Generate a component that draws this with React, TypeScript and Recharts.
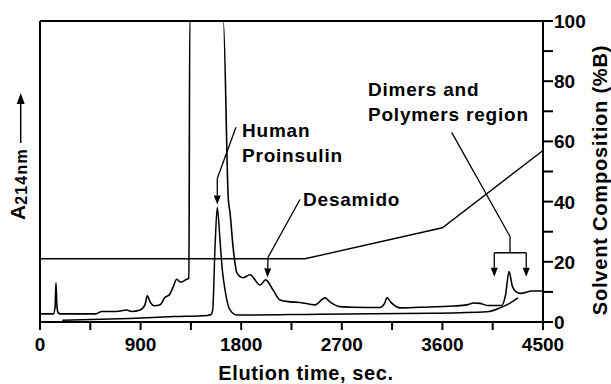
import { LineChart, Line, XAxis, YAxis, ReferenceLine, ReferenceDot } from 'recharts'

// crude sample trace (A214, display units 0-100, off-scale peak clipped at 100)
const crudeTime = [
  0, 120, 135, 143, 152, 165, 180, 500, 552, 686, 775, 820, 895, 939, 960, 984, 1020, 1074, 1118,
  1157, 1190, 1223, 1258, 1312, 1332, 1340, 1640, 1685, 1700, 1727, 1762, 1816, 1879, 1968, 2019,
  2084, 2147, 2236, 2326, 2460, 2550, 2600, 2684, 2800, 3042, 3080, 3105, 3140, 3220, 3400, 3700,
  3820, 3880, 3936, 4000, 4130, 4165, 4196, 4225, 4260, 4300, 4400, 4500,
]
const crudeAbs = [
  2.7, 2.7, 5, 13, 5, 2.9, 2.7, 2.7, 3.5, 3.5, 4.0, 3.5, 4.0, 5.7, 8.7, 6.8, 5.4, 5.7, 8.2,
  9.0, 11.5, 14.2, 13.2, 14.2, 14.5, 100, 100, 40.7, 36.3, 25, 16.3, 14.7, 15.7, 12.3, 14,
  10.7, 7.3, 6.7, 6.5, 5.7, 8, 6.5, 5.1, 4.9, 4.8, 6, 8, 6.5, 4.7, 4.9, 5.3,
  5.7, 6.3, 6.2, 5.5, 5.5, 9, 16.8, 12, 10, 9.5, 10.3, 10.3,
]

// purified proinsulin trace
const pureTime = [200, 800, 1200, 1500, 1530, 1545, 1566, 1586, 1610, 1631, 1655, 1700, 1760, 2500, 3500, 4000, 4115, 4205, 4276]
const pureAbs = [0.6, 1.2, 1.8, 2.2, 2.5, 4, 25, 38, 27.3, 17.3, 10.7, 4, 2.3, 2.6, 2.9, 3.4, 4.7, 6.3, 8]

// solvent gradient (%B)
const gradientTime = [0, 2370, 3600, 4500]
const gradientPctB = [21, 21, 31.3, 57]

const timeTicks = [0, 450, 900, 1350, 1800, 2250, 2700, 3150, 3600, 4050, 4500]
const pctTicks = [0, 10, 20, 30, 40, 50, 60, 70, 80, 90, 100]

const crude = crudeTime.map((t, i) => ({ t, a: crudeAbs[i] }))
const pure = pureTime.map((t, i) => ({ t, a: pureAbs[i] }))
const gradient = gradientTime.map((t, i) => ({ t, b: gradientPctB[i] }))

const FONT = '"Liberation Sans", Arial, Helvetica, sans-serif'

function TimeTick({ x, y, payload }: any) {
  if (payload.value % 900 !== 0) return <g />
  return (
    <text x={x} y={y + 19} textAnchor="middle" fontSize={19} fontWeight="bold" fontFamily={FONT} fill="#000">
      {payload.value}
    </text>
  )
}

function PctTick({ x, y, payload }: any) {
  if (payload.value % 20 !== 0) return <g />
  return (
    <text x={x - 1} y={y + 7} textAnchor="start" fontSize={19} fontWeight="bold" fontFamily={FONT} fill="#000">
      {payload.value}
    </text>
  )
}

function Arrow({ x1, y1, x2, y2 }: any) {
  const ang = Math.atan2(y2 - y1, x2 - x1)
  const len = 9
  const half = 3.5
  const bx = x2 - len * Math.cos(ang)
  const by = y2 - len * Math.sin(ang)
  const px = -Math.sin(ang) * half
  const py = Math.cos(ang) * half
  return (
    <g>
      <line x1={x1} y1={y1} x2={bx} y2={by} stroke="#000" strokeWidth={1.3} />
      <polygon points={`${x2},${y2} ${bx + px},${by + py} ${bx - px},${by - py}`} fill="#000" />
    </g>
  )
}

function note(lines: string[]) {
  return ({ cx, cy }: any) => (
    <text x={cx} y={cy} fontSize={19} fontWeight="bold" fontFamily={FONT} fill="#000" letterSpacing={0.8}>
      {lines.map((s, i) => (
        <tspan key={i} x={cx} dy={i === 0 ? 0 : 25}>
          {s}
        </tspan>
      ))}
    </text>
  )
}

function XTitle() {
  return (
    <text x={306} y={380} textAnchor="middle" fontSize={20} fontWeight="bold" fontFamily={FONT} fill="#000" letterSpacing={0.6}>
      Elution time, sec.
    </text>
  )
}

function PctTitle() {
  return (
    <text
      transform="translate(607,180) rotate(-90)"
      textAnchor="middle"
      fontSize={20}
      fontWeight="bold"
      fontFamily={FONT}
      fill="#000"
      letterSpacing={0.8}
    >
      Solvent Composition (%B)
    </text>
  )
}

function AbsTitle() {
  return (
    <g transform="translate(25,220) rotate(-90)" fontFamily={FONT} fontWeight="bold" fill="#000">
      <text x={0} y={0} fontSize={21}>
        A
        <tspan fontSize={16} dy={2} letterSpacing={1.2}>
          214nm
        </tspan>
      </text>
      <line x1={77} y1={-4.3} x2={118} y2={-4.3} stroke="#000" strokeWidth={1.5} />
      <polygon points="127,-4.3 116,-8.3 116,-0.3" fill="#000" />
    </g>
  )
}

export default function App() {
  return (
    <div style={{ position: 'absolute', left: 0, top: 0, width: 611, height: 384, background: '#fff' }}>
      <LineChart width={611} height={384} margin={{ top: 21, right: 0, bottom: 0, left: 0 }}>
        <XAxis
          type="number"
          dataKey="t"
          domain={[0, 4500]}
          ticks={timeTicks}
          interval={0}
          height={62}
          tickSize={8}
          axisLine={{ stroke: '#000', strokeWidth: 2 }}
          tickLine={{ stroke: '#000', strokeWidth: 2 }}
          tick={<TimeTick />}
          label={<XTitle />}
        />
        <YAxis
          yAxisId="abs"
          orientation="left"
          width={40}
          domain={[0, 100]}
          tick={false}
          tickLine={false}
          axisLine={{ stroke: '#000', strokeWidth: 2 }}
          label={<AbsTitle />}
        />
        <YAxis
          yAxisId="pct"
          orientation="right"
          width={68}
          domain={[0, 100]}
          ticks={pctTicks}
          interval={0}
          tickSize={10}
          axisLine={{ stroke: '#000', strokeWidth: 2 }}
          tickLine={{ stroke: '#000', strokeWidth: 2 }}
          tick={<PctTick />}
          label={<PctTitle />}
        />
        <ReferenceLine yAxisId="pct" y={100} stroke="#000" strokeWidth={2} />

        <Line data={gradient} dataKey="b" yAxisId="pct" type="linear" stroke="#000" strokeWidth={1.4} dot={false} isAnimationActive={false} />
        <Line data={pure} dataKey="a" yAxisId="abs" type="monotone" stroke="#000" strokeWidth={1.5} dot={false} isAnimationActive={false} />
        <Line data={crude} dataKey="a" yAxisId="abs" type="monotone" stroke="#000" strokeWidth={1.6} dot={false} isAnimationActive={false} />

        {/* Human Proinsulin */}
        <ReferenceLine yAxisId="pct" ifOverflow="visible" segment={[{ x: 1753, y: 64.7 }, { x: 1586, y: 47.7 }]} stroke="#000" strokeWidth={1.3} />
        <ReferenceLine yAxisId="pct" ifOverflow="visible" segment={[{ x: 1586, y: 47.7 }, { x: 1586, y: 39 }]} shape={<Arrow />} />
        <ReferenceDot yAxisId="pct" x={1807} y={61.3} r={0} ifOverflow="visible" shape={note(['Human', 'Proinsulin'])} />

        {/* Desamido */}
        <ReferenceLine yAxisId="pct" ifOverflow="visible" segment={[{ x: 2326, y: 40.7 }, { x: 2040, y: 21.5 }]} stroke="#000" strokeWidth={1.3} />
        <ReferenceLine yAxisId="pct" ifOverflow="visible" segment={[{ x: 2040, y: 21.5 }, { x: 2035, y: 14.8 }]} shape={<Arrow />} />
        <ReferenceDot yAxisId="pct" x={2353} y={38.7} r={0} ifOverflow="visible" shape={note(['Desamido'])} />

        {/* Dimers and polymers */}
        <ReferenceLine yAxisId="pct" ifOverflow="visible" segment={[{ x: 3683, y: 63 }, { x: 4205, y: 28.4 }]} stroke="#000" strokeWidth={1.3} />
        <ReferenceLine yAxisId="pct" ifOverflow="visible" segment={[{ x: 4205, y: 28.4 }, { x: 4205, y: 23 }]} stroke="#000" strokeWidth={1.3} />
        <ReferenceLine yAxisId="pct" ifOverflow="visible" segment={[{ x: 4064, y: 23 }, { x: 4350, y: 23 }]} stroke="#000" strokeWidth={1.3} />
        <ReferenceLine yAxisId="pct" ifOverflow="visible" segment={[{ x: 4064, y: 23 }, { x: 4064, y: 15 }]} shape={<Arrow />} />
        <ReferenceLine yAxisId="pct" ifOverflow="visible" segment={[{ x: 4350, y: 23 }, { x: 4350, y: 15 }]} shape={<Arrow />} />
        <ReferenceDot yAxisId="pct" x={2934} y={75} r={0} ifOverflow="visible" shape={note(['Dimers and', 'Polymers region'])} />
      </LineChart>
    </div>
  )
}
